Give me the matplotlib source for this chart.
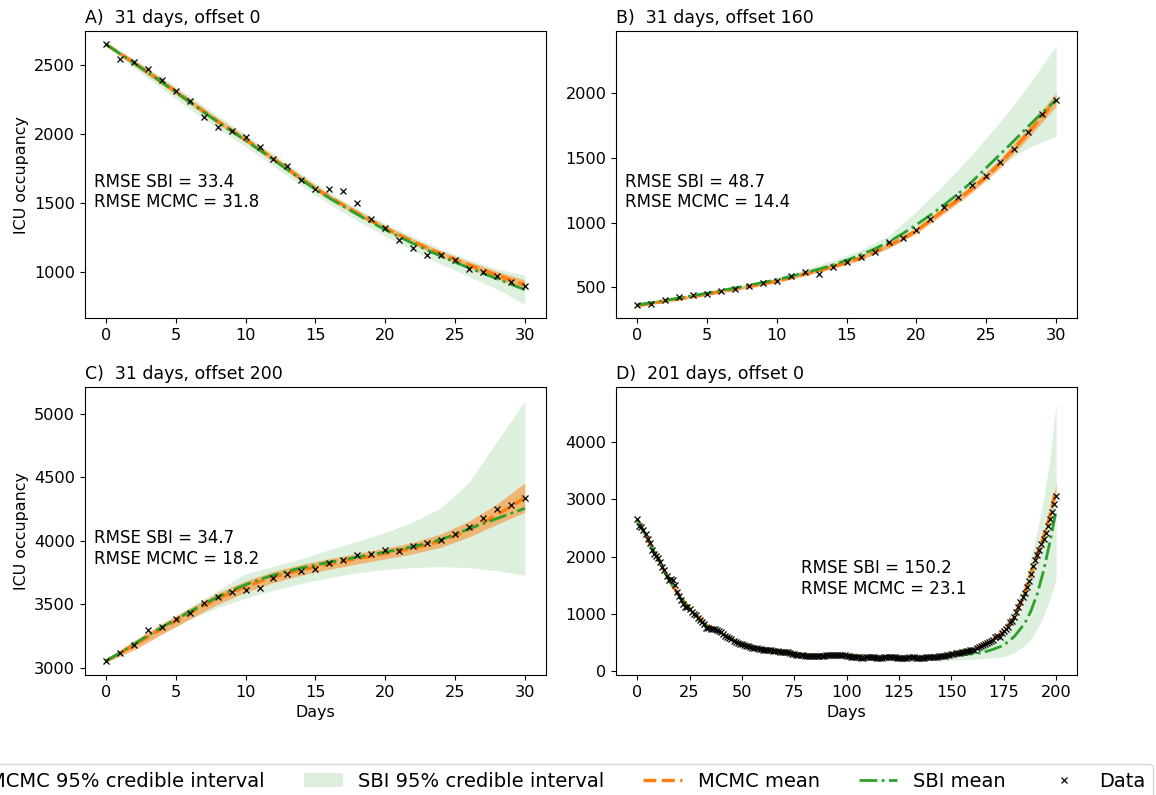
import numpy as np
import matplotlib
matplotlib.use("Agg")
import matplotlib.pyplot as plt
from matplotlib.patches import Patch
from matplotlib.lines import Line2D
from matplotlib.ticker import MultipleLocator

plt.rcParams['font.family'] = ['DejaVu Sans']
plt.rcParams['font.size'] = 11.4
plt.rcParams['xtick.labelsize'] = 11.6
plt.rcParams['ytick.labelsize'] = 11.6
plt.rcParams['axes.labelsize'] = 11.4
plt.rcParams['axes.titlesize'] = 12.5

# ---------------- Panel A: 31 days, offset 0 ----------------
days_A = list(range(31))
data_A = [2650, 2541, 2524, 2469, 2392, 2310, 2238, 2123, 2051, 2020, 1979, 1905, 1823, 1768, 1665,
          1600, 1605, 1590, 1499, 1386, 1319, 1235, 1175, 1127, 1125, 1089, 1024, 1000, 976, 933, 899]
mcmc_A = [2650, 2584, 2517, 2449, 2379, 2308, 2237, 2165, 2094, 2028, 1962, 1893, 1822, 1750, 1678,
          1607, 1546, 1487, 1430, 1374, 1321, 1271, 1223, 1178, 1134, 1093, 1054, 1017, 980, 945, 910]
sbi_A = [2650, 2582, 2514, 2446, 2376, 2304, 2232, 2160, 2089, 2022, 1955, 1886, 1815, 1743, 1671,
         1600, 1538, 1478, 1420, 1363, 1309, 1258, 1209, 1162, 1117, 1074, 1033, 993, 955, 915, 875]
band_days_A = [0, 2, 4, 6, 8, 10, 12, 14, 16, 18, 20, 22, 24, 26, 28, 30]
mcmc_lo_A = [2640, 2497, 2357, 2215, 2073, 1942, 1802, 1658, 1527, 1411, 1302, 1204, 1113, 1030, 952, 878]
mcmc_hi_A = [2660, 2537, 2401, 2259, 2115, 1982, 1842, 1698, 1565, 1449, 1340, 1242, 1155, 1078, 1008, 945]
sbi_lo_A = [2640, 2480, 2330, 2180, 2040, 1910, 1770, 1628, 1495, 1375, 1262, 1158, 1060, 970, 880, 770]
sbi_hi_A = [2660, 2545, 2415, 2278, 2135, 1998, 1858, 1714, 1580, 1462, 1355, 1258, 1170, 1092, 1025, 980]

# ---------------- Panel B: 31 days, offset 160 ----------------
days_B = list(range(31))
data_B = [363, 374, 404, 423, 443, 448, 472, 487, 510, 531, 549, 588, 619, 601, 657,
          694, 732, 774, 851, 882, 944, 1029, 1122, 1202, 1295, 1365, 1468, 1571, 1703, 1842, 1948]
mcmc_B = [360, 377, 395, 413, 431, 450, 469, 488, 508, 528, 550, 577, 605, 632, 661,
          693, 730, 772, 825, 875, 940, 1020, 1100, 1180, 1265, 1355, 1460, 1575, 1695, 1820, 1950]
sbi_B = [365, 382, 400, 418, 437, 456, 476, 496, 517, 538, 560, 585, 612, 641, 673,
         710, 752, 798, 852, 915, 985, 1060, 1140, 1225, 1320, 1425, 1530, 1635, 1745, 1850, 1950]
band_days_B = [0, 2, 4, 6, 8, 10, 12, 14, 16, 18, 20, 22, 24, 26, 28, 30]
mcmc_lo_B = [350, 384, 419, 457, 495, 536, 590, 645, 712, 805, 917, 1074, 1235, 1425, 1655, 1900]
mcmc_hi_B = [370, 406, 443, 481, 521, 564, 620, 677, 748, 845, 963, 1126, 1295, 1495, 1735, 2005]
sbi_lo_B = [355, 390, 425, 460, 500, 540, 592, 648, 712, 800, 925, 1085, 1255, 1440, 1580, 1670]
sbi_hi_B = [375, 410, 448, 488, 530, 578, 640, 710, 790, 900, 1090, 1300, 1530, 1780, 2060, 2370]

# ---------------- Panel C: 31 days, offset 200 ----------------
days_C = list(range(31))
data_C = [3055, 3120, 3183, 3296, 3322, 3385, 3435, 3513, 3558, 3594, 3613, 3628, 3707, 3738, 3764,
          3775, 3825, 3853, 3890, 3898, 3924, 3919, 3956, 3979, 4008, 4052, 4107, 4181, 4254, 4278, 4338]
mcmc_C = [3055, 3115, 3180, 3245, 3310, 3370, 3430, 3490, 3545, 3595, 3640, 3680, 3715, 3745, 3772,
          3795, 3818, 3840, 3860, 3880, 3900, 3920, 3942, 3968, 4000, 4040, 4090, 4145, 4205, 4270, 4340]
sbi_C = [3055, 3120, 3187, 3255, 3320, 3382, 3442, 3502, 3558, 3610, 3655, 3695, 3730, 3760, 3787,
         3810, 3832, 3852, 3872, 3892, 3912, 3932, 3955, 3980, 4010, 4050, 4095, 4135, 4175, 4215, 4255]
band_days_C = [0, 2, 4, 6, 8, 10, 12, 14, 16, 18, 20, 22, 24, 26, 28, 30]
mcmc_lo_C = [3045, 3140, 3265, 3385, 3500, 3595, 3672, 3730, 3776, 3818, 3858, 3898, 3950, 4030, 4130, 4225]
mcmc_hi_C = [3065, 3215, 3350, 3472, 3590, 3685, 3760, 3815, 3860, 3902, 3942, 3988, 4055, 4155, 4290, 4455]
sbi_lo_C = [3050, 3160, 3270, 3380, 3475, 3550, 3610, 3665, 3710, 3748, 3775, 3790, 3797, 3790, 3765, 3730]
sbi_hi_C = [3060, 3195, 3335, 3475, 3610, 3740, 3800, 3860, 3930, 3995, 4065, 4150, 4260, 4460, 4780, 5100]

# ---------------- Panel D: 201 days, offset 0 ----------------
days_D = list(range(201))
data_D = [2650, 2541, 2524, 2469, 2392, 2310, 2238, 2123, 2051, 2020,
          1979, 1905, 1823, 1768, 1665, 1600, 1605, 1590, 1499, 1386,
          1319, 1235, 1175, 1127, 1125, 1089, 1024, 1000, 976, 933,
          899, 865, 820, 760, 745, 740, 738, 735, 720, 700,
          680, 650, 620, 600, 580, 560, 530, 505, 490, 475,
          465, 455, 440, 430, 420, 410, 400, 395, 390, 385,
          375, 370, 365, 360, 360, 355, 350, 345, 340, 338,
          335, 330, 325, 310, 300, 290, 285, 280, 275, 272,
          270, 268, 265, 262, 260, 260, 262, 265, 268, 270,
          272, 275, 278, 280, 282, 285, 283, 280, 278, 275,
          270, 262, 250, 245, 240, 238, 236, 235, 234, 236,
          238, 240, 238, 236, 235, 234, 232, 235, 238, 240,
          242, 240, 238, 236, 235, 233, 232, 230, 232, 234,
          236, 238, 236, 234, 232, 230, 232, 234, 236, 238,
          242, 245, 248, 252, 256, 260, 265, 270, 276, 283,
          290, 298, 306, 314, 322, 330, 338, 345, 352, 358,
          363, 374, 404, 423, 443, 448, 472, 487, 510, 531,
          549, 588, 619, 601, 657, 694, 732, 774, 851, 882,
          944, 1029, 1122, 1202, 1295, 1365, 1468, 1571, 1703, 1842,
          1948, 2030, 2120, 2215, 2315, 2420, 2530, 2650, 2780, 2915,
          3055]
curve_days_D = [0, 3, 6, 10, 15, 20, 25, 30, 35, 40, 45, 50, 60, 70, 80, 90, 100, 110, 120, 130, 140,
                150, 155, 160, 165, 170, 175, 180, 185, 188, 191, 194, 197, 200]
mcmc_D = [2650, 2449, 2237, 1962, 1607, 1321, 1093, 910, 770, 670, 560, 470, 385, 335, 275, 270, 272, 240,
          236, 234, 238, 285, 330, 362, 450, 550, 693, 940, 1355, 1695, 2045, 2340, 2700, 3180]
mcmc_lo_D = [2635, 2432, 2220, 1945, 1590, 1305, 1077, 893, 752, 652, 543, 455, 370, 320, 262, 257, 259, 228,
             224, 222, 225, 270, 315, 346, 432, 530, 670, 912, 1320, 1655, 1995, 2280, 2625, 3080]
mcmc_hi_D = [2665, 2466, 2254, 1979, 1624, 1337, 1109, 927, 788, 688, 577, 485, 400, 350, 288, 283, 285, 252,
             248, 246, 251, 300, 345, 378, 468, 570, 716, 968, 1390, 1735, 2095, 2400, 2775, 3280]
sbi_D = [2650, 2446, 2232, 1955, 1600, 1309, 1074, 875, 750, 660, 555, 468, 385, 335, 275, 268, 270, 240,
         236, 234, 238, 265, 285, 300, 320, 380, 450, 600, 830, 1050, 1350, 1750, 2250, 2800]
sbi_lo_D = [2640, 2415, 2195, 1915, 1560, 1270, 1030, 835, 705, 615, 510, 425, 340, 285, 225, 210, 200, 185,
            180, 175, 178, 190, 198, 205, 215, 230, 250, 320, 440, 560, 740, 960, 1250, 1600]
sbi_hi_D = [2660, 2478, 2270, 1995, 1640, 1350, 1118, 915, 795, 705, 600, 512, 430, 385, 325, 325, 340, 300,
            300, 300, 310, 360, 400, 430, 500, 620, 800, 1100, 1550, 2000, 2450, 3000, 3700, 4700]

titles = ["A)  31 days, offset 0", "B)  31 days, offset 160",
          "C)  31 days, offset 200", "D)  201 days, offset 0"]
rmse_sbi = [33.4, 48.7, 34.7, 150.2]
rmse_mcmc = [31.8, 14.4, 18.2, 23.1]

panels = [
    (days_A, data_A, days_A, mcmc_A, sbi_A, band_days_A, mcmc_lo_A, mcmc_hi_A, sbi_lo_A, sbi_hi_A),
    (days_B, data_B, days_B, mcmc_B, sbi_B, band_days_B, mcmc_lo_B, mcmc_hi_B, sbi_lo_B, sbi_hi_B),
    (days_C, data_C, days_C, mcmc_C, sbi_C, band_days_C, mcmc_lo_C, mcmc_hi_C, sbi_lo_C, sbi_hi_C),
    (days_D, data_D, curve_days_D, mcmc_D, sbi_D, curve_days_D, mcmc_lo_D, mcmc_hi_D, sbi_lo_D, sbi_hi_D),
]
ylims = [(667, 2746), (260, 2482), (2945, 5206), (-70, 4960)]
ysteps = [500, 500, 500, 1000]
xsteps = [5, 5, 5, 25]
text_pos = [(0.02, 0.44), (0.02, 0.44), (0.02, 0.44), (0.40, 0.335)]

fig, axes = plt.subplots(2, 2, figsize=(11.56, 7.95), dpi=100)
fig.subplots_adjust(left=0.0735, right=0.9317, top=0.961, bottom=0.151, wspace=0.153, hspace=0.24)

for i, ax in enumerate(axes.flat):
    (dd, data, cd, mcmc, sbi, bd, mlo, mhi, slo, shi) = panels[i]
    ax.fill_between(bd, slo, shi, color='C2', alpha=0.16, linewidth=0)
    ax.fill_between(bd, mlo, mhi, color='C1', alpha=0.5, linewidth=0)
    ax.plot(cd, mcmc, color='C1', linestyle='--', linewidth=2.5)
    ax.plot(cd, sbi, color='C2', linestyle='-.', linewidth=2)
    ax.plot(dd, data, linestyle='none', marker='x', color='black', markersize=5, markeredgewidth=0.9)
    ax.set_title(titles[i], loc='left')
    ax.set_ylim(*ylims[i])
    ax.yaxis.set_major_locator(MultipleLocator(ysteps[i]))
    ax.xaxis.set_major_locator(MultipleLocator(xsteps[i]))
    tx, ty = text_pos[i]
    ax.text(tx, ty, f"RMSE SBI = {rmse_sbi[i]}\nRMSE MCMC = {rmse_mcmc[i]}",
            transform=ax.transAxes, ha='left', va='center', fontsize=12)
    if i % 2 == 0:
        ax.set_ylabel("ICU occupancy")
    if i >= 2:
        ax.set_xlabel("Days")

handles = [
    Patch(facecolor='C1', alpha=0.5, edgecolor='none'),
    Patch(facecolor='C2', alpha=0.16, edgecolor='none'),
    Line2D([], [], color='C1', linestyle='--', linewidth=2.5),
    Line2D([], [], color='C2', linestyle='-.', linewidth=2),
    Line2D([], [], color='black', linestyle='none', marker='x', markersize=5, markeredgewidth=0.9),
]
labels = ["MCMC 95% credible interval", "SBI 95% credible interval", "MCMC mean", "SBI mean", "Data"]
fig.legend(handles, labels, loc='upper right', bbox_to_anchor=(1153 / 1156, 31 / 795),
           ncol=5, fontsize=14, borderaxespad=0)

fig.savefig("out.png", dpi=100)
